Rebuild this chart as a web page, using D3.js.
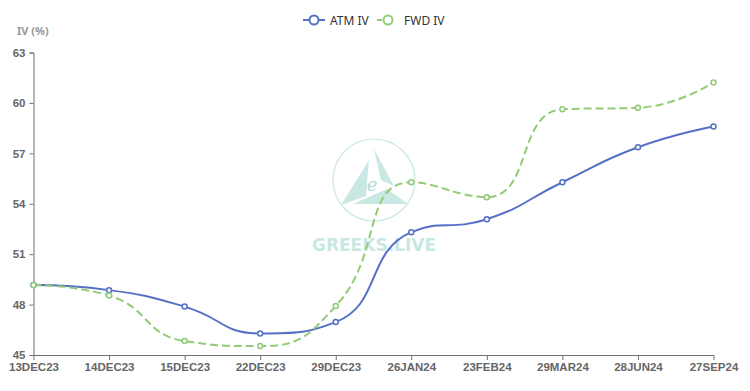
<!DOCTYPE html>
<html>
<head>
<meta charset="utf-8">
<script src="https://d3js.org/d3.v7.min.js"></script>
<style>
  body { margin: 0; background: #fff; }
  svg { font-family: "Noto Sans", "Open Sans", sans-serif; display: block; }
</style>
</head>
<body>
<div id="chart"></div>
<script>
var width = 750, height = 391;

var expiries = ["13DEC23", "14DEC23", "15DEC23", "22DEC23", "29DEC23", "26JAN24", "23FEB24", "29MAR24", "28JUN24", "27SEP24"];
var atmIV = [49.16, 48.86, 47.88, 46.28, 46.96, 52.31, 53.08, 55.28, 57.36, 58.6];
var fwdIV = [49.16, 48.54, 45.83, 45.53, 47.91, 55.28, 54.39, 59.62, 59.71, 61.22];
var yTicks = [45, 48, 51, 54, 57, 60, 63];

var margin = {left: 33.5, right: 36.5, top: 52.5, bottom: 36};

var svg = d3.select("#chart")
  .append("svg")
  .attr("width", width)
  .attr("height", height);

var x = d3.scalePoint()
  .domain(expiries)
  .range([margin.left, width - margin.right]);

var y = d3.scaleLinear()
  .domain([45, 63])
  .range([height - margin.bottom, margin.top]);

// watermark
var wm = svg.append("g").attr("class", "watermark");
var wmColor = "#c9e7e3";
wm.append("circle")
  .attr("cx", 374).attr("cy", 180).attr("r", 41)
  .attr("fill", "none").attr("stroke", wmColor).attr("stroke-width", 1.2);
wm.append("path")
  .attr("d", "M369,160 L341,205 L366,196 Z")
  .attr("fill", wmColor);
wm.append("path")
  .attr("d", "M374,149 L394,186 L381,180 Z")
  .attr("fill", wmColor);
wm.append("path")
  .attr("d", "M387,189 L408,204 L353,204 Z")
  .attr("fill", wmColor);
wm.append("text")
  .attr("x", 372).attr("y", 191)
  .attr("text-anchor", "middle")
  .attr("font-family", "DejaVu Serif, serif")
  .attr("font-style", "italic")
  .attr("font-size", 18)
  .attr("fill", "#b3dcd7")
  .text("e");
wm.append("text")
  .attr("x", 374).attr("y", 251)
  .attr("text-anchor", "middle")
  .attr("font-family", "DejaVu Sans, sans-serif")
  .attr("font-weight", "bold")
  .attr("font-size", 17)
  .attr("fill", wmColor)
  .text("GREEKS.LIVE");

// y axis
var yAxis = svg.append("g")
  .attr("transform", "translate(" + margin.left + ",0)")
  .call(d3.axisLeft(y).tickValues(yTicks).tickSize(4).tickPadding(4));
yAxis.select(".domain").attr("stroke", "#6e7079").attr("stroke-width", 1);
yAxis.selectAll(".tick line").attr("stroke", "#6e7079");
yAxis.selectAll(".tick text")
  .attr("fill", "#666").attr("font-size", 11.5).attr("font-weight", "bold");

// x axis
var xAxis = svg.append("g")
  .attr("transform", "translate(0," + (height - margin.bottom) + ")")
  .call(d3.axisBottom(x).tickSize(5).tickPadding(3).tickSizeOuter(0));
xAxis.select(".domain").attr("stroke", "#6e7079").attr("stroke-width", 1);
xAxis.selectAll(".tick line").attr("stroke", "#6e7079");
xAxis.selectAll(".tick text")
  .attr("fill", "#666").attr("font-size", 11.5).attr("font-weight", "bold");

svg.append("text")
  .attr("x", 17).attr("y", 35)
  .attr("fill", "#999").attr("font-size", 11).attr("font-weight", "bold")
  .text("IV (%)");

// smooth path similar to echarts' smooth: 0.5 with clamped control points
function smoothPath(pts, smooth) {
  var p = d3.path();
  var cpx0, cpy0;
  for (var i = 0; i < pts.length; i++) {
    var xx = pts[i][0], yy = pts[i][1];
    if (i === 0) { p.moveTo(xx, yy); cpx0 = xx; cpy0 = yy; continue; }
    var px = pts[i - 1][0], py = pts[i - 1][1];
    var cpx1, cpy1, nCpx0, nCpy0;
    if (i === pts.length - 1) {
      cpx1 = xx; cpy1 = yy; nCpx0 = xx; nCpy0 = yy;
    } else {
      var nx = pts[i + 1][0], ny = pts[i + 1][1];
      var vx = nx - px, vy = ny - py;
      var lp = Math.hypot(xx - px, yy - py), ln = Math.hypot(nx - xx, ny - yy);
      var r = ln / (ln + lp);
      cpx1 = xx - vx * smooth * (1 - r);
      cpy1 = yy - vy * smooth * (1 - r);
      nCpx0 = xx + vx * smooth * r;
      nCpy0 = yy + vy * smooth * r;
      nCpx0 = Math.max(Math.min(nCpx0, Math.max(nx, xx)), Math.min(nx, xx));
      nCpy0 = Math.max(Math.min(nCpy0, Math.max(ny, yy)), Math.min(ny, yy));
      vx = nCpx0 - xx; vy = nCpy0 - yy;
      cpx1 = xx - vx * lp / ln;
      cpy1 = yy - vy * lp / ln;
      cpx1 = Math.max(Math.min(cpx1, Math.max(px, xx)), Math.min(px, xx));
      cpy1 = Math.max(Math.min(cpy1, Math.max(py, yy)), Math.min(py, yy));
      vx = xx - cpx1; vy = yy - cpy1;
      nCpx0 = xx + vx * ln / lp;
      nCpy0 = yy + vy * ln / lp;
    }
    p.bezierCurveTo(cpx0, cpy0, cpx1, cpy1, xx, yy);
    cpx0 = nCpx0; cpy0 = nCpy0;
  }
  return p.toString();
}

var series = [
  {name: "ATM IV", values: atmIV, color: "#5470c6", dash: null},
  {name: "FWD IV", values: fwdIV, color: "#91cc75", dash: "8,4"}
];

series.forEach(function(s) {
  var pts = s.values.map(function(v, i) { return [x(expiries[i]), y(v)]; });
  svg.append("path")
    .attr("d", smoothPath(pts, 0.5))
    .attr("fill", "none")
    .attr("stroke", s.color)
    .attr("stroke-width", 2)
    .attr("stroke-dasharray", s.dash);
});

series.forEach(function(s) {
  svg.append("g").selectAll("circle")
    .data(s.values)
    .enter().append("circle")
    .attr("cx", function(d, i) { return x(expiries[i]); })
    .attr("cy", function(d) { return y(d); })
    .attr("r", 2.5)
    .attr("fill", "#fff")
    .attr("stroke", s.color)
    .attr("stroke-width", 1.5);
});

// legend
var legendX = [303, 377];
var legend = svg.append("g");
series.forEach(function(s, i) {
  var g = legend.append("g").attr("transform", "translate(" + legendX[i] + ",20)");
  g.append("line")
    .attr("x1", 0).attr("x2", 22)
    .attr("stroke", s.color).attr("stroke-width", 2)
    .attr("stroke-dasharray", s.dash ? "5,5,1.5,20" : null);
  g.append("circle")
    .attr("cx", 11).attr("r", 4.5)
    .attr("fill", "#fff").attr("stroke", s.color).attr("stroke-width", 2);
  g.append("text")
    .attr("x", 27).attr("y", 4.5)
    .attr("fill", "#333").attr("font-size", 12)
    .text(s.name);
});
</script>
</body>
</html>
